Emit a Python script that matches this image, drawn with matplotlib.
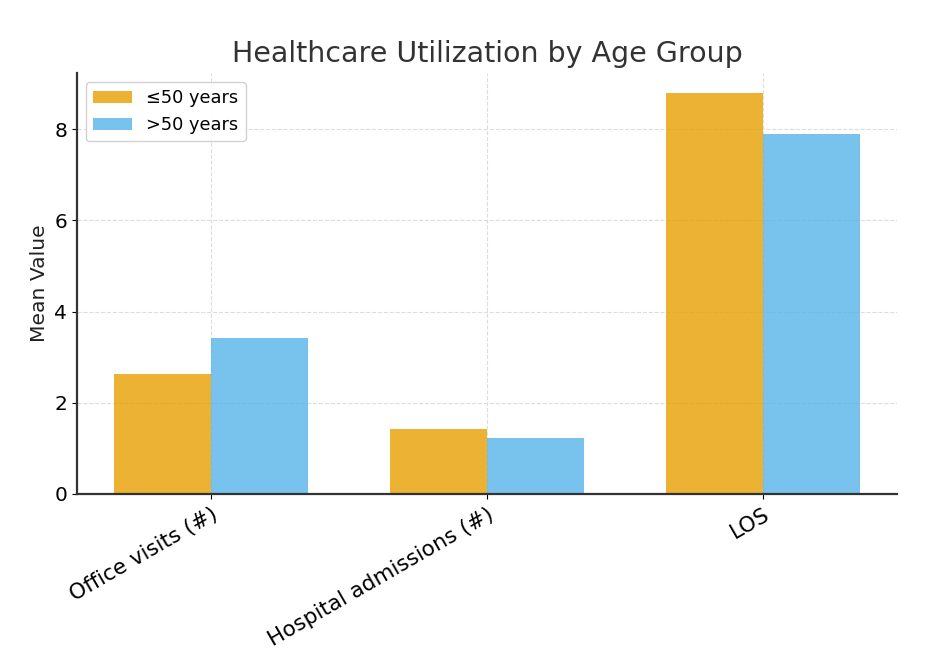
import matplotlib
matplotlib.use("Agg")
import matplotlib.pyplot as plt
import numpy as np

categories = ["Office visits (#)", "Hospital admissions (#)", "LOS"]
young = [2.64, 1.42, 8.79]
old = [3.43, 1.22, 7.89]
labels = ["\u226450 years", ">50 years"]

fig = plt.figure(figsize=(9.31, 6.59), dpi=100)
ax = fig.add_axes([0.0827, 0.2504, 0.8808, 0.6386])

x = np.arange(len(categories))
w = 0.35
ax.bar(x - w / 2, young, w, color="#E69F00", alpha=0.8, label=labels[0])
ax.bar(x + w / 2, old, w, color="#56B4E9", alpha=0.8, label=labels[1])

ax.set_title("Healthcare Utilization by Age Group", fontsize=20.5, color="#333333", pad=8)
ax.set_ylabel("Mean Value", fontsize=14.6, color="#222222")
ax.set_xticks(x)
ax.set_xticklabels(categories, rotation=30, ha="right", rotation_mode="anchor", fontsize=15.5)
ax.tick_params(axis="y", labelsize=14.5)
ax.tick_params(axis="x", pad=4)
ax.set_yticks([0, 2, 4, 6, 8])

ax.grid(True, linestyle="--", color="#dddddd", linewidth=0.8)
ax.set_axisbelow(True)
for s in ["top", "right"]:
    ax.spines[s].set_visible(False)
for s in ["left", "bottom"]:
    ax.spines[s].set_linewidth(1.6)
    ax.spines[s].set_color("#333333")

ax.legend(fontsize=12.8, loc="upper left", framealpha=0.9, edgecolor="#cccccc",
          handlelength=2.2)

fig.savefig("out.png", dpi=100)
